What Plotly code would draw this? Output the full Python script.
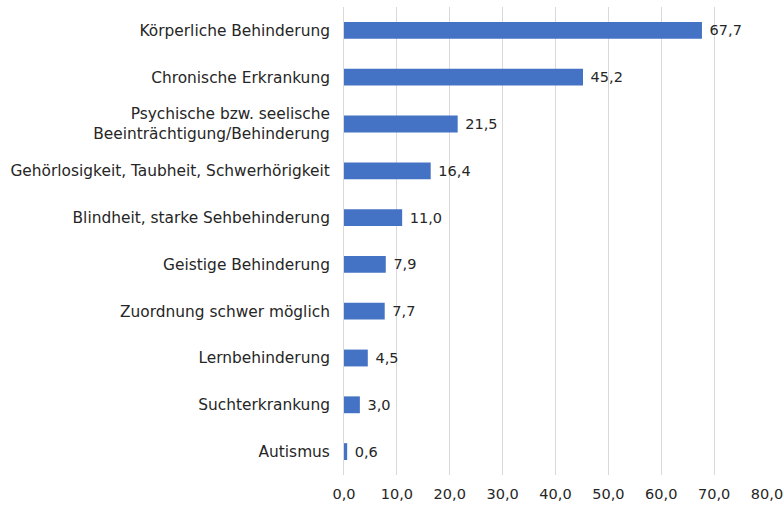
import plotly.graph_objects as go

categories = [
    "Körperliche Behinderung",
    "Chronische Erkrankung",
    "Psychische bzw. seelische<br>Beeinträchtigung/Behinderung",
    "Gehörlosigkeit, Taubheit, Schwerhörigkeit",
    "Blindheit, starke Sehbehinderung",
    "Geistige Behinderung",
    "Zuordnung schwer möglich",
    "Lernbehinderung",
    "Suchterkrankung",
    "Autismus",
]
values = [67.7, 45.2, 21.5, 16.4, 11.0, 7.9, 7.7, 4.5, 3.0, 0.6]
tick_vals = [0, 10, 20, 30, 40, 50, 60, 70, 80]
tick_text = ["0,0", "10,0", "20,0", "30,0", "40,0", "50,0", "60,0", "70,0", "80,0"]

labels = ["\u00a0" + f"{v:.1f}".replace(".", ",") for v in values]

font_family = "'DejaVu Sans', sans-serif"
text_color = "#262626"
cat_size = 15.4
num_size = 14.5

fig = go.Figure(
    go.Bar(
        x=values,
        y=categories,
        orientation="h",
        marker=dict(color="#4472C4", line=dict(width=0)),
        text=labels,
        textposition="outside",
        textfont=dict(size=num_size, color=text_color, family=font_family),
        cliponaxis=False,
        width=0.36,
        hoverinfo="skip",
    )
)

fig.update_layout(
    width=784,
    height=506,
    margin=dict(l=344, r=17, t=7, b=31),
    paper_bgcolor="white",
    plot_bgcolor="white",
    showlegend=False,
    font=dict(family=font_family, size=cat_size, color=text_color),
)
fig.update_xaxes(
    range=[0, 80],
    tickvals=tick_vals,
    ticktext=tick_text,
    showgrid=True,
    gridcolor="#D9D9D9",
    gridwidth=1,
    zeroline=False,
    showline=False,
    ticks="",
    automargin=False,
    ticklabelstandoff=8,
    tickfont=dict(size=num_size, color=text_color),
)
fig.update_yaxes(
    autorange="reversed",
    showgrid=False,
    showline=True,
    linecolor="#D9D9D9",
    linewidth=1,
    ticks="",
    automargin=False,
    ticklabelstandoff=10,
    tickfont=dict(size=cat_size, color=text_color),
)

fig.write_html(
    "out.html",
    config={"displayModeBar": False},
    post_script="document.body.style.margin='0';document.body.style.padding='0';",
)
